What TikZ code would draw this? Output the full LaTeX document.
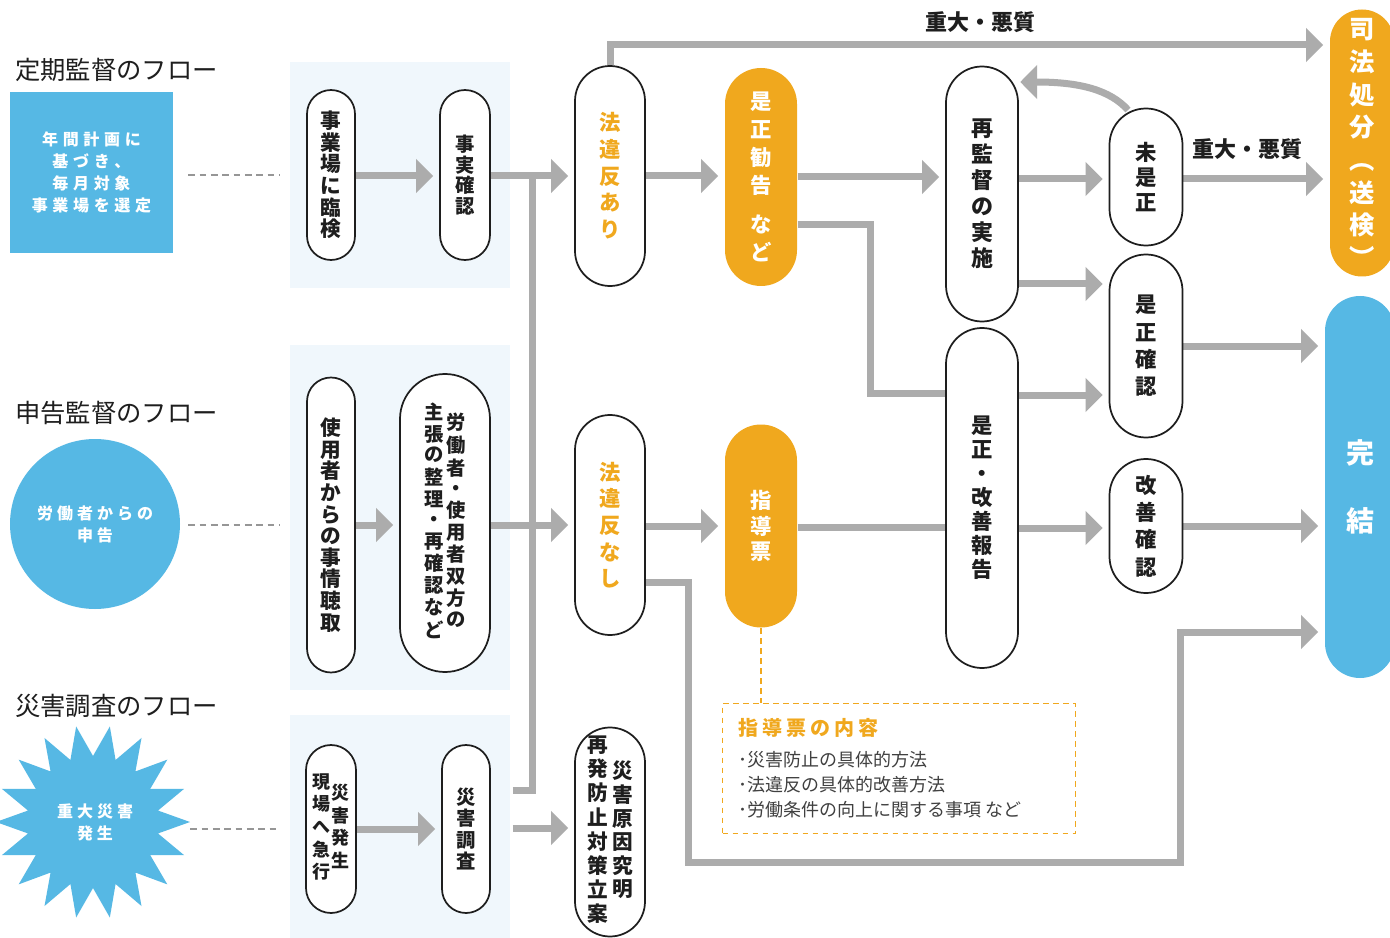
\documentclass[tikz,border=0pt]{standalone}
\usepackage{fontspec}
\setmainfont{Noto Sans CJK JP}
\usetikzlibrary{arrows.meta,calc}
\pgfdeclarelayer{bg}
\pgfdeclarelayer{lines}
\pgfsetlayers{bg,lines,main}
\definecolor{agray}{RGB}{172,172,172}
\definecolor{dgray}{RGB}{150,150,150}
\definecolor{jorange}{RGB}{240,168,30}
\definecolor{jblue}{RGB}{86,184,228}
\definecolor{pale}{RGB}{240,247,252}
\definecolor{ink}{RGB}{30,30,30}
\makeatletter
\def\sp@first#1{#1\sp@loop}
\def\sp@loop#1{\ifx#1\relax\else\hspace{\sp@amt}#1\expandafter\sp@loop\fi}
\newcommand\spaced[2]{\def\sp@amt{#1}\sp@first#2\relax}
\makeatother
\newcommand\vcol[1]{\begin{tabular}{@{}c@{}}#1\end{tabular}}
\tikzset{
  pill/.style={rectangle, draw=ink, fill=white, line width=1.3pt, inner sep=0pt, align=center, text=ink,
    font=\bfseries\fontsize{15.5pt}{16.2pt}\selectfont},
  opill/.style={pill, draw=none, fill=jorange, text=white},
  arr/.style={draw=agray, line width=5.25pt, -{Triangle[length=12.75pt,width=24.75pt]}, shorten >=4.5pt},
  gl/.style={draw=agray, line width=5.25pt},
  dl/.style={draw=dgray, line width=1.1pt, dash pattern=on 5pt off 3.5pt},
  head/.style={anchor=west, text=ink, font=\fontsize{19pt}{22pt}\selectfont, inner sep=0pt},
  lab/.style={text=ink, font=\bfseries\fontsize{16.5pt}{19pt}\selectfont, inner sep=0pt},
  blt/.style={anchor=west, text=ink!85, font=\fontsize{13.5pt}{16pt}\selectfont, inner sep=0pt},
  wtext/.style={text=white, align=center, font=\bfseries\fontsize{12pt}{16.5pt}\selectfont, inner sep=0pt}
}
\begin{document}
\begin{tikzpicture}[x=0.75pt,y=-0.75pt]
\useasboundingbox (0,0) rectangle (1390,938);
\begin{pgfonlayer}{bg}
\fill[white] (0,0) rectangle (1390,938);
\fill[pale] (290,62) rectangle (510,288);
\fill[pale] (290,345) rectangle (510,690);
\fill[pale] (290,715) rectangle (510,938);
\end{pgfonlayer}

% headings
\node[head] (h1) at (15,70) {定期監督のフロー};
\node[head] (h2) at (15,413) {申告監督のフロー};
\node[head] (h3) at (15,706) {災害調査のフロー};

% left shapes
\node[rectangle, fill=jblue, minimum width=122.25pt, minimum height=120.75pt, wtext] (r1) at (91.5,172.5)
  {\spaced{3.5pt}{年間計画に}\\\spaced{3.5pt}{基づき、}\\\spaced{3.5pt}{毎月対象}\\\spaced{3.5pt}{事業場を選定}};
\node[circle, fill=jblue, minimum size=127.5pt, wtext] (c2) at (95,524)
  {\spaced{3pt}{労働者からの}\\\spaced{3pt}{申告}};
\fill[jblue] plot[samples at={0,...,35}, variable=\i]
  ({93+cos(\i*10)*ifthenelse(mod(\i,2)==0,97,66)}, {822-sin(\i*10)*ifthenelse(mod(\i,2)==0,97,66)}) -- cycle;
\node[circle, minimum size=142.5pt, wtext] (sb) at (95,822) {\spaced{3pt}{重大災害}\\\spaced{3pt}{発生}};

% column 1
\node[pill, minimum width=36pt, minimum height=127.5pt, rounded corners=18pt] (n11) at (331,175)
  {事\\業\\場\\に\\臨\\検};
\node[pill, minimum width=36pt, minimum height=221.25pt, rounded corners=18pt] (n21) at (331,525)
  {使\\用\\者\\か\\ら\\の\\事\\情\\聴\\取};
\node[pill, minimum width=37.5pt, minimum height=126pt, rounded corners=18.75pt,
  font=\bfseries\fontsize{13.5pt}{17pt}\selectfont] (n31) at (331,829)
  {\vcol{現\\場\\へ\\急\\行}\hspace{1pt}\vcol{災\\害\\発\\生}};

% column 2
\node[pill, minimum width=37.5pt, minimum height=127.5pt, rounded corners=18.75pt,
  font=\bfseries\fontsize{14.5pt}{15.5pt}\selectfont] (n12) at (465,175)
  {事\\実\\確\\認};
\node[pill, minimum width=67.5pt, minimum height=223.5pt, rounded corners=33.75pt,
  font=\bfseries\fontsize{14.5pt}{15.2pt}\selectfont] (n22) at (445,523)
  {\vcol{主\\張\\の\\整\\理\\・\\再\\確\\認\\な\\ど}\hspace{2pt}\vcol{労\\働\\者\\・\\使\\用\\者\\双\\方\\の}};
\node[pill, minimum width=36pt, minimum height=126pt, rounded corners=18pt,
  font=\bfseries\fontsize{14.5pt}{16pt}\selectfont] (n32) at (466,829)
  {災\\害\\調\\査};

% column 3
\node[pill, minimum width=52.5pt, minimum height=165pt, rounded corners=26.25pt, text=jorange,
  font=\bfseries\fontsize{16pt}{20pt}\selectfont] (n13) at (610,176)
  {法\\違\\反\\あ\\り};
\node[pill, minimum width=52.5pt, minimum height=165pt, rounded corners=26.25pt, text=jorange,
  font=\bfseries\fontsize{16pt}{20pt}\selectfont] (n23) at (610,525)
  {法\\違\\反\\な\\し};
\node[pill, minimum width=52.5pt, minimum height=156.75pt, rounded corners=26.25pt,
  font=\bfseries\fontsize{15.5pt}{16pt}\selectfont] (n33) at (610,832)
  {\vcol{再\\発\\防\\止\\対\\策\\立\\案}\hspace{3pt}\vcol{災\\害\\原\\因\\究\\明}};

% column 4
\node[opill, minimum width=54pt, minimum height=163.5pt, rounded corners=27pt,
  font=\bfseries\fontsize{16pt}{21pt}\selectfont] (n14) at (761,177)
  {是\\正\\勧\\告\\[8pt]な\\ど};
\node[opill, minimum width=54pt, minimum height=152.25pt, rounded corners=27pt,
  font=\bfseries\fontsize{16pt}{19pt}\selectfont] (n24) at (761,526)
  {指\\導\\票};

% column 5
\node[pill, minimum width=54pt, minimum height=191.25pt, rounded corners=27pt,
  font=\bfseries\fontsize{16.5pt}{19.5pt}\selectfont] (n15) at (982,194)
  {再\\監\\督\\の\\実\\施};
\node[pill, minimum width=54pt, minimum height=255pt, rounded corners=27pt,
  font=\bfseries\fontsize{16pt}{18pt}\selectfont] (n25) at (982,498)
  {是\\正\\・\\改\\善\\報\\告};

% column 6
\node[pill, minimum width=54.75pt, minimum height=102.75pt, rounded corners=27.3pt,
  font=\bfseries\fontsize{16pt}{18.5pt}\selectfont] (n16) at (1146,177)
  {未\\是\\正};
\node[pill, minimum width=54.75pt, minimum height=137.25pt, rounded corners=27.3pt,
  font=\bfseries\fontsize{16pt}{20.5pt}\selectfont] (n26) at (1146,346)
  {是\\正\\確\\認};
\node[pill, minimum width=54.75pt, minimum height=100.5pt, rounded corners=27.3pt,
  font=\bfseries\fontsize{16pt}{20.5pt}\selectfont] (n36) at (1146,526)
  {改\\善\\確\\認};

% right column
\node[opill, minimum width=48pt, minimum height=200.25pt, rounded corners=24pt,
  font=\bfseries\fontsize{19pt}{24.5pt}\selectfont] (sj) at (1362,143)
  {司\\法\\処\\分\\︵\\送\\検\\︶};
\node[opill, fill=jblue, minimum width=52.5pt, minimum height=286.5pt, rounded corners=26.25pt,
  font=\bfseries\fontsize{21pt}{51pt}\selectfont] (kk) at (1360,487)
  {完\\結};

% labels
\node[lab] (l1) at (980,22) {重大・悪質};
\node[lab] (l2) at (1247,149) {重大・悪質};

% info box
\node[draw=jorange, dash pattern=on 4pt off 3.5pt, line width=1pt, minimum width=264.75pt,
  minimum height=97.5pt, anchor=north west, inner sep=0pt] (box) at (722,703) {};
\node[anchor=west, text=jorange, font=\bfseries\fontsize{15pt}{18pt}\selectfont, inner sep=0pt] (bt) at (738,728)
  {\spaced{3pt}{指導票の内容}};
\node[blt] (b1) at (738,760) {･災害防止の具体的方法};
\node[blt] (b2) at (738,785) {･法違反の具体的改善方法};
\node[blt] (b3) at (738,810) {･労働条件の向上に関する事項 など};

\begin{pgfonlayer}{lines}
% dashed from left shapes
\draw[dl] ($(r1.east |- n11)+(15,0)$) -- ($(n11.west)+(-27,0)$);
\draw[dl] ($(c2.east |- n21)+(8,0)$) -- ($(n21.west)+(-27,0)$);
\draw[dl] (sb.east |- n31) -- ($(n31.west)+(-27,0)$);
\draw[draw=jorange, line width=1pt, dash pattern=on 4pt off 3.5pt] (n24.south) -- (n24.south |- box.north);

% row arrows
\draw[arr] (n11.east |- 0,176) -- (n12.west |- 0,176);
\draw[arr] (n12.east |- 0,176) -- (n13.west |- 0,176);
\coordinate (j1) at (532,176);
\draw[gl] ($(n32.east |- 0,790)+(22,0)$) -- (j1 |- 0,790) -- (j1);
\draw[arr] (n21.east |- 0,525) -- (n22.west |- 0,525);
\draw[arr] (n22.east |- 0,525) -- (n23.west |- 0,525);
\draw[arr] (n31.east |- 0,829) -- (n32.west |- 0,829);
\draw[arr] ($(n32.east |- 0,828)+(22,0)$) -- (n33.west |- 0,828);

\draw[arr] (n13.east |- 0,176) -- (n14.west |- 0,176);
\draw[arr] (n23.east |- 0,526) -- (n24.west |- 0,526);
\draw[arr] (n13.north) -- (n13.north |- 0,45) -- (sj.west |- 0,45);

\draw[arr] (n14.east |- 0,177) -- (n15.west |- 0,177);
\draw[gl] (n14.east |- 0,225) -- (870,225) -- (870,393) -- (n25.west |- 0,393);
\draw[gl] (n24.east |- 0,527) -- (n25.west |- 0,527);
\draw[arr] (n23.east |- 0,582) -- (688,582) -- (688,862) -- (1180,862) -- (1180,632) -- (kk.west |- 0,632);

\draw[arr] (n15.east |- 0,179) -- (n16.west |- 0,179);
\draw[arr] (n15.east |- 0,284) -- (n26.west |- 0,284);
\draw[arr] (n25.east |- 0,395) -- (n26.west |- 0,395);
\draw[arr] (n25.east |- 0,528) -- (n36.west |- 0,528);
\coordinate (c1) at (1128,110);
\draw[arr, shorten >=1pt] (c1) .. controls (1110,90) and (1080,82) .. (n15.east |- 0,82);

\draw[arr] (n16.east |- 0,179) -- (sj.west |- 0,179);
\draw[arr] (n26.east |- 0,346) -- (kk.west |- 0,346);
\draw[arr] (n36.east |- 0,526) -- (kk.west |- 0,526);
\end{pgfonlayer}
\end{tikzpicture}
\end{document}
